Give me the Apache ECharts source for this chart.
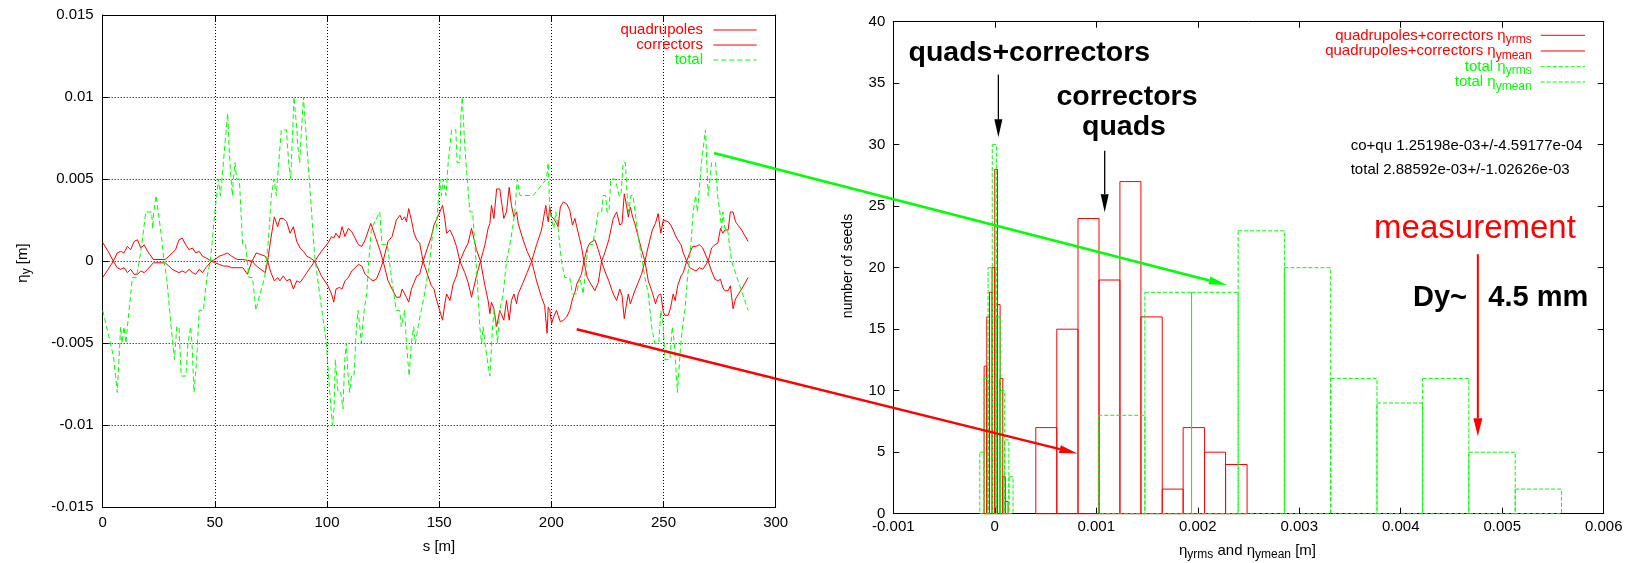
<!DOCTYPE html>
<html><head><meta charset="utf-8">
<script src="https://cdn.jsdelivr.net/npm/echarts@6/dist/echarts.min.js"></script>
<style>html,body{margin:0;padding:0;background:#fff}#c{width:1626px;height:563px}</style>
</head><body><div id="c"></div>
<script>
// ---------- data: left plot (s [m], eta_y [m]) ----------
const quadrupoles = [[0,0.00114],[2.4,0.0006],[4.75,0],[6.5,-0.0004],[8,-0.0005],[9.5,-0.0004],[11,-0.0007],[12.5,-0.0005],[14,-0.0008],[15.5,-0.0008],[17,-0.0006],[18.5,-0.0007],[20,-0.0005],[22.6,-0.0001],[27.8,-0.0001],[29.5,-0.0003],[31,-0.0005],[32.5,-0.0006],[34,-0.0007],[35.5,-0.0006],[37,-0.0007],[38.5,-0.0005],[40,-0.0007],[41.5,-0.0008],[43,-0.0005],[44.5,-0.0007],[46,-0.0004],[48.5,0],[50,0.0001],[52,0.0003],[54,0.0004],[55.5,0.0005],[57.5,0.0003],[60,0.0001],[62.5,0.0001],[64.5,0.00005],[66.5,0],[68.5,-0.0003],[70.5,-0.0005],[72.5,-0.0007],[73.5,0],[75,0.0014],[76.5,0.0027],[78,0.0021],[79,0.0026],[80.5,0.0026],[82,0.0024],[83.5,0.0017],[85,0.0021],[86.5,0.0012],[88,0.0008],[89.5,0.0006],[91,0.0003],[92.5,0.0002],[94.5,0],[97.5,-0.0009],[100.4,-0.0015],[102,-0.002],[103,-0.0025],[104,-0.0017],[105.5,-0.0016],[106.7,-0.0017],[108,-0.0012],[109.5,-0.001],[111,-0.0006],[112.5,-0.0004],[114,-0.0002],[115.5,-0.0003],[117,-0.0008],[119.5,-0.0011],[120.5,-0.0012],[122,-0.0011],[123.5,-0.0006],[125,0],[127.2,0.0012],[129,0.0015],[130.9,0.0025],[132.5,0.0028],[133.5,0.0025],[134.6,0.0027],[135.4,0.0024],[136.4,0.0032],[137.6,0.0025],[138.8,0.0017],[140,0.0013],[141.3,0.0011],[142.8,0],[145,-0.0009],[146.5,-0.0015],[147.7,-0.0017],[148.5,-0.0022],[150,-0.0029],[151.5,-0.0036],[152.5,-0.0026],[153.3,-0.002],[154.8,-0.0024],[156.2,-0.0014],[157.7,-0.0009],[159.2,0],[161.4,0.0007],[162.9,0.0011],[164.4,0.002],[166.6,0.0007],[168.4,0],[170.4,-0.0015],[171.8,-0.0024],[172.6,-0.0032],[173.3,-0.0025],[174.4,-0.0029],[175.6,-0.004],[177,-0.003],[178.8,-0.0036],[180,-0.0024],[181.2,-0.0036],[182.2,-0.0024],[183.3,-0.002],[184.5,-0.0026],[185.2,-0.002],[187.4,-0.0013],[189.2,-0.0007],[191.2,0],[193.4,0.001],[195.6,0.0019],[197,0.003],[197.5,0.0034],[198.1,0.0028],[198.6,0.0024],[199.3,0.0033],[200.1,0.0027],[201,0.0026],[202.3,0.0023],[203,0.0021],[204,0.0033],[205.3,0.0036],[206.8,0.0035],[208.2,0.0031],[209.4,0.0022],[210.5,0.0026],[211.3,0.0021],[213.4,0.0009],[214.5,0],[216,-0.001],[217.2,-0.0013],[219.4,-0.0018],[220.9,-0.0013],[222.4,0],[223.8,0.0005],[225.6,0.0013],[226.8,0.0021],[227.6,0.0026],[229.1,0.003],[230.5,0.0022],[231.5,0.0023],[232.5,0.0041],[233.5,0.0034],[234.3,0.0027],[235.2,0.0033],[236.2,0.0027],[237.2,0.0023],[238.7,0.0015],[240.2,0.0007],[241.7,0],[243.2,-0.0012],[245,-0.0019],[246.4,-0.0026],[247.6,-0.0021],[248.8,-0.002],[249.9,-0.0031],[250.6,-0.0033],[252.1,-0.0033],[253.2,-0.0028],[254.3,-0.002],[255.2,-0.0024],[256.3,-0.0015],[257.8,-0.0009],[258.8,-0.0007],[260.3,0],[261.7,0.0005],[263,0.0009],[264.5,0.0009],[266,0.001],[267.5,0.0008],[269.9,0],[271.4,-0.0006],[272.9,-0.0011],[274.2,-0.0012],[275.4,-0.0011],[276.4,-0.0016],[277.3,-0.0018],[278.8,-0.0018],[279.8,-0.0015],[281,-0.0029],[282.1,-0.0023],[284.8,-0.0017],[287.7,-0.001]];

const correctors = [[0,-0.001],[2.4,-0.0005],[4.75,0],[6.5,0.0005],[8,0.0006],[9.5,0.0005],[11,0.0009],[12.5,0.0007],[14,0.0012],[15.5,0.0013],[17,0.0008],[18.5,0.001],[20,0.0006],[22.6,0.0001],[27.8,0.0001],[29.5,0.0003],[31,0.0005],[32.5,0.0007],[34,0.0013],[35.5,0.0014],[37,0.001],[38.5,0.0007],[40,0.0008],[41.5,0.0005],[43,0.0006],[44.5,0.0003],[46,0.0002],[48.5,0],[50,-0.0001],[52,-0.0002],[54,-0.0003],[55.5,-0.0003],[57.5,-0.0004],[60,-0.0004],[62.5,-0.0004],[64.5,-0.0008],[66.5,0],[68.5,0.0005],[70.5,0.0004],[72.5,0.0003],[73.5,0],[75,-0.0007],[76.5,-0.0012],[78,-0.001],[79,-0.0012],[80.5,-0.0009],[82,-0.0012],[83.5,-0.0011],[85,-0.0017],[86.5,-0.0012],[88,-0.0013],[89.5,-0.001],[91,-0.0007],[92.5,-0.0004],[94.5,0],[97.5,0.0006],[100.4,0.0011],[102,0.0015],[103,0.0014],[104,0.0017],[105.5,0.0014],[106.7,0.0021],[108,0.0015],[109.5,0.002],[111,0.0018],[112.5,0.0014],[114,0.001],[115.5,0.0009],[117,0.0013],[119.5,0.0023],[120.5,0.0019],[122,0.0013],[123.5,0.0007],[125,0],[127.2,-0.0012],[129,-0.0017],[130.9,-0.0022],[132.5,-0.0022],[133.5,-0.0017],[134.6,-0.002],[135.4,-0.0022],[136.4,-0.0025],[137.6,-0.0017],[138.8,-0.0013],[140,-0.0009],[141.3,-0.0008],[142.8,0],[145,0.0009],[146.5,0.0015],[147.7,0.0022],[148.5,0.0021],[150,0.0029],[151.5,0.0034],[152.5,0.0026],[153.3,0.0017],[154.8,0.0019],[156.2,0.0015],[157.7,0.0009],[159.2,0],[161.4,-0.0007],[162.9,-0.0013],[164.4,-0.0022],[166.6,-0.0009],[168.4,0],[170.4,0.001],[171.8,0.002],[172.6,0.0023],[173.3,0.0034],[174.4,0.0026],[175.6,0.0044],[177,0.0044],[178.8,0.0026],[180,0.003],[181.2,0.0045],[182.2,0.0034],[183.3,0.0027],[184.5,0.003],[185.2,0.0023],[187.4,0.0013],[189.2,0.0006],[191.2,0],[193.4,-0.0012],[195.6,-0.0022],[197,-0.0027],[197.5,-0.0035],[198.1,-0.0044],[198.6,-0.0028],[199.3,-0.003],[200.1,-0.0038],[201,-0.0034],[202.3,-0.003],[203,-0.0033],[204,-0.0037],[205.3,-0.0036],[206.8,-0.0034],[208.2,-0.003],[209.4,-0.0023],[210.5,-0.0019],[211.3,-0.0014],[213.4,-0.0008],[214.5,0],[216,0.0008],[217.2,0.0011],[219.4,0.0013],[220.9,0.0007],[222.4,0],[223.8,-0.0006],[225.6,-0.0012],[226.8,-0.0017],[227.6,-0.002],[229.1,-0.0024],[230.5,-0.0017],[231.5,-0.0021],[232.5,-0.0035],[233.5,-0.0026],[234.3,-0.002],[235.2,-0.0026],[236.2,-0.0022],[237.2,-0.0018],[238.7,-0.0013],[240.2,-0.0008],[241.7,0],[243.2,0.0009],[245,0.0019],[246.4,0.0023],[247.6,0.0029],[248.8,0.0017],[249.9,0.0025],[250.6,0.0025],[252.1,0.0024],[253.2,0.0022],[254.3,0.0019],[255.2,0.0016],[256.3,0.0013],[257.8,0.001],[258.8,0.0005],[260.3,0],[261.7,-0.0004],[263,-0.0005],[264.5,-0.0006],[266,-0.0004],[267.5,-0.0005],[269.9,0],[271.4,0.0008],[272.9,0.001],[274.2,0.0011],[275.4,0.002],[276.4,0.0017],[277.3,0.0019],[278.8,0.0019],[279.8,0.003],[281,0.003],[282.1,0.0024],[284.8,0.0019],[287.7,0.0012]];

const total = [[0,-0.003],[4.8,-0.0058],[6.5,-0.008],[8,-0.004],[8.6,-0.005],[9.5,-0.004],[10.4,-0.005],[11,-0.004],[12.5,-0.002],[13.2,-0.001],[15,-0.001],[16.3,0],[17.4,0.001],[18,0.001],[19.2,0.003],[21.8,0.003],[22.3,0.002],[22.8,0.003],[23.8,0.004],[26.3,0.0014],[27.3,0],[28.5,-0.001],[30.5,-0.004],[32,-0.006],[33,-0.004],[34,-0.004],[35,-0.007],[37.1,-0.007],[38,-0.005],[39.2,-0.004],[39.8,-0.005],[40.7,-0.008],[41.9,-0.006],[43,-0.003],[44.9,-0.003],[46.4,-0.001],[48,0],[50,0.003],[50.8,0.004],[51.6,0.005],[52.4,0.004],[53.2,0.005],[54.4,0.007],[55.7,0.009],[56.3,0.007],[57.2,0.005],[57.8,0.004],[58.2,0.005],[59,0.006],[59.7,0.005],[60.9,0.005],[62.4,0.001],[63.7,0.001],[65.2,-0.001],[66.8,-0.001],[68.3,-0.003],[70.1,-0.002],[72.2,-0.001],[73.7,0.001],[75.2,0.004],[76.4,0.005],[77.4,0.004],[77.9,0.005],[78.5,0.005],[79.6,0.008],[81.9,0.008],[82.9,0.006],[83.8,0.005],[84.4,0.007],[85.3,0.01],[85.9,0.009],[86.6,0.008],[87,0.007],[87.8,0.006],[88.6,0.008],[89.5,0.01],[90,0.009],[94.5,0.0003],[97.5,-0.0028],[99.7,-0.005],[101.2,-0.008],[102.4,-0.01],[103.1,-0.009],[103.7,-0.006],[104.9,-0.008],[106.1,-0.008],[107.1,-0.009],[107.9,-0.006],[108.6,-0.005],[109.4,-0.007],[110.1,-0.008],[110.9,-0.007],[112,-0.007],[113.1,-0.004],[113.8,-0.003],[114.6,-0.004],[115.3,-0.005],[116.5,-0.003],[117.7,-0.002],[118.6,0],[119.8,0.002],[123.5,0.003],[124.5,0.001],[126.9,0.001],[128.7,-0.001],[130.9,-0.003],[132.4,-0.003],[133.1,-0.004],[134.6,-0.003],[135.4,-0.005],[136.6,-0.007],[137.6,-0.005],[138.6,-0.004],[139.4,-0.005],[140.6,-0.004],[142,-0.003],[143.5,-0.002],[145.8,0],[147.3,0.002],[148.7,0.002],[150.3,0.005],[151,0.004],[151.8,0.005],[153,0.004],[154,0.006],[154.8,0.007],[155.5,0.008],[157.4,0.008],[158,0.006],[159.2,0.006],[159.7,0.009],[160.3,0.01],[161.4,0.007],[162.5,0.005],[163.7,0.003],[164.9,0.003],[165.9,0.001],[166.9,-0.001],[168.1,-0.004],[168.9,-0.005],[169.6,-0.004],[170.4,-0.005],[171.4,-0.006],[172.6,-0.007],[173.8,-0.004],[174.5,-0.003],[175.3,-0.004],[176,-0.005],[177,-0.003],[178.5,-0.002],[180,0],[181.5,0.001],[182.7,0.002],[183.7,0.003],[184.8,0.005],[186,0.004],[191.9,0.004],[197.8,0.005],[198.6,0.006],[199.3,0.003],[200.1,0.003],[201.1,0.002],[202,0.003],[203,0.002],[204.5,0],[206,-0.001],[208.2,-0.001],[209.4,-0.002],[211.2,-0.002],[212.7,-0.001],[214.2,-0.002],[214.9,-0.001],[216.4,0.001],[218.3,0.001],[219.8,0.002],[220.9,0.003],[222.4,0.003],[223.1,0.004],[224.2,0.004],[224.8,0.003],[225.7,0.003],[226.5,0.005],[228.6,0.005],[230.1,0.004],[231,0.004],[232,0.006],[233,0.006],[233.8,0.004],[234.5,0.003],[235.4,0.004],[236.4,0.004],[238.7,0.0015],[241.7,-0.001],[243.2,-0.002],[244.7,-0.004],[246.1,-0.005],[247.9,-0.005],[248.8,-0.003],[249.9,-0.004],[250.6,-0.006],[252.8,-0.006],[253.9,-0.004],[254.8,-0.005],[256.2,-0.008],[257.7,-0.005],[258.5,-0.004],[259.5,-0.003],[260.7,-0.001],[262.2,0.001],[263.2,0.003],[264.3,0.004],[265.1,0.003],[265.7,0.004],[266.9,0.006],[268.7,0.008],[269.9,0.004],[270.7,0.005],[271.4,0.006],[273.2,0.006],[274.1,0.004],[275.1,0.003],[275.9,0.002],[276.5,0.003],[277.3,0.002],[278.5,0.002],[280.3,0],[287.7,-0.003]];

// ---------- data: right plot histograms (bin edges [m], counts) ----------
const rmsQCEdges   = [0.000404,0.000611,0.00082,0.001027,0.001233,0.00144,0.00165,0.001856,0.002067,0.002274,0.002486];
const rmsQCCounts  = [7,15,24,19,27,16,2,7,5,4];
const meanQCEdges  = [-0.000105,-0.0000788,-0.0000525,-0.0000263,0,0.0000263,0.0000525,0.0000788,0.000105,0.000131];
const meanQCCounts = [12,16,18,20,28,17,11,3,1];
const rmsTotEdges  = [0.00102,0.001479,0.001939,0.002398,0.002854,0.00331,0.003766,0.004216,0.004671,0.005128,0.005584];
const rmsTotCounts = [8,18,18,23,20,11,9,11,5,2];
const meanTotEdges = [-0.000148,-0.000107,-0.000066,-0.000025,0.000016,0.000057,0.000098,0.000139,0.00018];
const meanTotCounts= [5,11,20,30,16,10,6,3];

const leftXTicks = {min:0, max:300, step:50};
const leftYTicks = {min:-0.015, max:0.015, step:0.005};
const rightXTicks = {min:-0.001, max:0.006, step:0.001};
const rightYTicks = {min:0, max:40, step:5};

// ---------- chart ----------
const F = '"Liberation Sans", Arial, Helvetica, sans-serif';
const RED = '#ff0000', GREEN = '#00ff00';
function bins(edges, counts){ return counts.map((c,i)=>[edges[i],edges[i+1],c]); }
function boxRender(color, dash){
  return function(params, api){
    const a = api.coord([api.value(0), 0]);
    const b = api.coord([api.value(1), api.value(2)]);
    return {type:'rect', shape:{x:a[0], y:b[1], width:b[0]-a[0], height:a[1]-b[1]},
      style:{fill:null, stroke:color, lineWidth:1, lineDash:dash||null}};
  };
}
const tick = {inside:true, length:6, lineStyle:{color:'#000', width:1}};
const axLine = {show:true, onZero:false, lineStyle:{color:'#000', width:1}};
const lab = {color:'#000', fontSize:15, fontFamily:F};
const dotted = {show:true, lineStyle:{color:'#000', width:1, type:[1,2]}};
const fmt = k => v => String(Math.round(v*k)/k);

const chart = echarts.init(document.getElementById('c'));
chart.setOption({
  animation:false,
  backgroundColor:'#fff',
  grid:[{left:102.7, top:15, width:673, height:492.3},{left:893.3, top:21.7, width:710.4, height:492}],
  xAxis:[
    {gridIndex:0,type:'value',min:leftXTicks.min,max:leftXTicks.max,interval:leftXTicks.step,axisLine:axLine,axisTick:tick,axisLabel:Object.assign({margin:8},lab),splitLine:dotted},
    {gridIndex:0,type:'value',position:'top',min:leftXTicks.min,max:leftXTicks.max,interval:leftXTicks.step,axisLine:axLine,axisTick:tick,axisLabel:{show:false},splitLine:{show:false}},
    {gridIndex:1,type:'value',min:rightXTicks.min,max:rightXTicks.max,interval:rightXTicks.step,axisLine:axLine,axisTick:tick,axisLabel:Object.assign({margin:6,formatter:fmt(1e4)},lab),splitLine:{show:false}},
    {gridIndex:1,type:'value',position:'top',min:rightXTicks.min,max:rightXTicks.max,interval:rightXTicks.step,axisLine:axLine,axisTick:tick,axisLabel:{show:false},splitLine:{show:false}}
  ],
  yAxis:[
    {gridIndex:0,type:'value',min:leftYTicks.min,max:leftYTicks.max,interval:leftYTicks.step,axisLine:axLine,axisTick:tick,axisLabel:Object.assign({margin:9,formatter:fmt(1e3)},lab),splitLine:dotted},
    {gridIndex:0,type:'value',position:'right',min:leftYTicks.min,max:leftYTicks.max,interval:leftYTicks.step,axisLine:axLine,axisTick:tick,axisLabel:{show:false},splitLine:{show:false}},
    {gridIndex:1,type:'value',min:rightYTicks.min,max:rightYTicks.max,interval:rightYTicks.step,axisLine:axLine,axisTick:tick,axisLabel:Object.assign({margin:8},lab),splitLine:{show:false}},
    {gridIndex:1,type:'value',position:'right',min:rightYTicks.min,max:rightYTicks.max,interval:rightYTicks.step,axisLine:axLine,axisTick:tick,axisLabel:{show:false},splitLine:{show:false}}
  ],
  series:[
    {name:'quadrupoles',type:'line',xAxisIndex:0,yAxisIndex:0,data:quadrupoles,showSymbol:false,lineStyle:{color:RED,width:1},itemStyle:{color:RED},z:2},
    {name:'correctors',type:'line',xAxisIndex:0,yAxisIndex:0,data:correctors,showSymbol:false,lineStyle:{color:RED,width:1},itemStyle:{color:RED},z:2},
    {name:'total',type:'line',xAxisIndex:0,yAxisIndex:0,data:total,showSymbol:false,lineStyle:{color:GREEN,width:1,type:[5,3]},itemStyle:{color:GREEN},z:3},
    {name:'qc rms',type:'custom',xAxisIndex:2,yAxisIndex:2,data:bins(rmsQCEdges,rmsQCCounts),encode:{x:[0,1],y:2},renderItem:boxRender(RED),z:2},
    {name:'qc mean',type:'custom',xAxisIndex:2,yAxisIndex:2,data:bins(meanQCEdges,meanQCCounts),encode:{x:[0,1],y:2},renderItem:boxRender(RED),z:2},
    {name:'total rms',type:'custom',xAxisIndex:2,yAxisIndex:2,data:bins(rmsTotEdges,rmsTotCounts),encode:{x:[0,1],y:2},renderItem:boxRender(GREEN,[4,2]),z:3},
    {name:'total mean',type:'custom',xAxisIndex:2,yAxisIndex:2,data:bins(meanTotEdges,meanTotCounts),encode:{x:[0,1],y:2},renderItem:boxRender(GREEN,[4,2]),z:3}
  ]
});

// ---------- annotations ----------
const cv = document.createElement('canvas').getContext('2d');
function tw(t,size,weight){ cv.font=(weight||'normal')+' '+size+'px '+F; return cv.measureText(t).width; }
function T(x, base, t, size, color, align, weight){
  return {type:'text', x:x, y:base-0.35*size, z:50, style:{text:t, fill:color||'#000', font:(weight||'normal')+' '+size+'px '+F, align:align||'left', verticalAlign:'middle'}};
}
function rich(x, base, parts, color, align, weight){
  const ws = parts.map(p=>tw(p[0],p[1],weight));
  const W = ws.reduce((a,b)=>a+b,0);
  let cx = align==='right' ? x-W : align==='center' ? x-W/2 : x;
  const out=[];
  parts.forEach((p,i)=>{ out.push(T(cx, base+(p[2]||0), p[0], p[1], color, 'left', weight)); cx+=ws[i]; });
  return out;
}
function arrow(p0,p1,color,w,hl,hw){
  const dx=p1[0]-p0[0], dy=p1[1]-p0[1], L=Math.hypot(dx,dy), ux=dx/L, uy=dy/L;
  const bx=p1[0]-ux*hl, by=p1[1]-uy*hl, nx=-uy*hw/2, ny=ux*hw/2;
  return [
    {type:'line', z:40, shape:{x1:p0[0],y1:p0[1],x2:bx,y2:by}, style:{stroke:color,lineWidth:w}},
    {type:'polygon', z:40, shape:{points:[[p1[0],p1[1]],[bx+nx,by+ny],[bx-nx,by-ny]]}, style:{fill:color}}
  ];
}
const L = p => chart.convertToPixel({xAxisIndex:0,yAxisIndex:0}, p);
const R = p => chart.convertToPixel({xAxisIndex:2,yAxisIndex:2}, p);

const g = [];
[['quadrupoles',RED,null,30],['correctors',RED,null,45],['total',GREEN,[5,3],60]].forEach(r=>{
  g.push(T(703, r[3]+5, r[0], 15, r[1], 'right'));
  g.push({type:'line', z:40, shape:{x1:713.3,y1:r[3],x2:756.7,y2:r[3]}, style:{stroke:r[1],lineWidth:1,lineDash:r[2]}});
});
[['quadrupoles+correctors η','yrms',RED,null,35.3],['quadrupoles+correctors η','ymean',RED,null,51],['total η','yrms',GREEN,[4,2],66.7],['total η','ymean',GREEN,[4,2],82]].forEach(r=>{
  rich(1531.7, r[4]+5.4, [[r[0],15,0],[r[1],12,3]], r[2], 'right').forEach(e=>g.push(e));
  g.push({type:'line', z:40, shape:{x1:1540.7,y1:r[4],x2:1585,y2:r[4]}, style:{stroke:r[2],lineWidth:1,lineDash:r[3]}});
});
g.push(T(439, 552, 's [m]', 15, '#000', 'center'));
rich(1247.5, 556, [['η',15,0],['yrms',12,3],[' and η',15,0],['ymean',12,3],[' [m]',15,0]], '#000', 'center').forEach(e=>g.push(e));
g.push({type:'group', x:28, y:263, rotation:Math.PI/2, z:50, children:rich(0, 0, [['η',15,0],['y',12,3],[' [m]',15,0]], '#000', 'center')});
g.push({type:'group', x:853, y:266, rotation:Math.PI/2, z:50, children:[T(0, 0, 'number of seeds', 14, '#000', 'center')]});
g.push(T(1029.3, 63.3, 'quads+correctors', 28.5, '#000', 'center', 'bold'));
g.push(T(1127, 106.7, 'correctors', 28.5, '#000', 'center', 'bold'));
g.push(T(1124, 136.7, 'quads', 28.5, '#000', 'center', 'bold'));
g.push(T(1350.7, 151, 'co+qu 1.25198e-03+/-4.59177e-04', 15, '#000', 'left'));
g.push(T(1350.7, 175, 'total 2.88592e-03+/-1.02626e-03', 15, '#000', 'left'));
g.push(T(1475, 240, 'measurement', 33, RED, 'center'));
g.push(T(1413, 308.3, 'Dy~', 29, '#000', 'left', 'bold'));
g.push(T(1488.3, 308.3, '4.5 mm', 29, '#000', 'left', 'bold'));
arrow(R([0.0000354,35.7]), R([0.0000354,30.6]), '#000', 1.3, 18, 8).forEach(e=>g.push(e));
arrow(R([0.001083,29.5]), R([0.001083,24.5]), '#000', 1.3, 18, 8).forEach(e=>g.push(e));
arrow(R([0.00476,21.1]), R([0.00476,6.3]), RED, 2, 18, 9).forEach(e=>g.push(e));
arrow(L([272.5,0.00659]), R([0.002286,18.6]), GREEN, 2.5, 18, 8).forEach(e=>g.push(e));
arrow(L([211.3,-0.00415]), R([0.000813,4.9]), RED, 2.5, 18, 8).forEach(e=>g.push(e));
chart.setOption({graphic:g});
</script></body></html>
